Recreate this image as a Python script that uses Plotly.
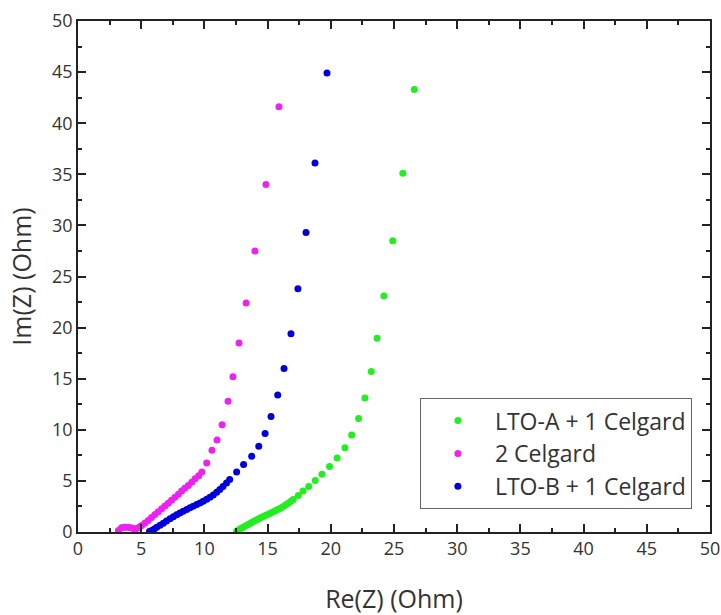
import plotly.graph_objects as go

# LTO-A + 1 Celgard
a_re = [12.55, 12.76, 12.92, 13.08, 13.27, 13.47, 13.67, 13.87, 14.06, 14.26, 14.46, 14.66, 14.86, 15.06,
        15.25, 15.45, 15.65, 15.85, 16.05, 16.24, 16.44, 16.64, 16.84, 17.03, 17.43, 17.8, 18.25, 18.77,
        19.3, 19.9, 20.5, 21.12, 21.65, 22.2, 22.7, 23.2, 23.66, 24.2, 24.9, 25.7, 26.6]
a_im = [0.08, 0.24, 0.36, 0.47, 0.6, 0.73, 0.88, 1.03, 1.15, 1.26, 1.39, 1.52, 1.63, 1.74,
        1.86, 1.98, 2.1, 2.23, 2.36, 2.5, 2.66, 2.82, 3.0, 3.18, 3.57, 4.0, 4.46, 5.04,
        5.66, 6.41, 7.23, 8.25, 9.48, 11.1, 13.1, 15.7, 18.95, 23.1, 28.5, 35.1, 43.3]

# 2 Celgard
c_re = [3.2, 3.45, 3.65, 3.85, 4.05, 4.25, 4.45, 4.64, 4.85, 5.04, 5.3, 5.56, 5.82, 6.09, 6.35, 6.62,
        6.88, 7.14, 7.4, 7.67, 7.95, 8.2, 8.45, 8.73, 9.0, 9.26, 9.55, 9.8, 10.18, 10.6, 11.0, 11.4,
        11.87, 12.26, 12.74, 13.3, 14.0, 14.87, 15.9]
c_im = [0.15, 0.41, 0.46, 0.47, 0.45, 0.38, 0.3, 0.34, 0.48, 0.64, 0.88, 1.13, 1.42, 1.71, 1.99, 2.27,
        2.55, 2.82, 3.1, 3.4, 3.7, 4.0, 4.28, 4.55, 4.88, 5.2, 5.5, 5.86, 6.74, 8.0, 9.0, 10.5,
        12.8, 15.2, 18.5, 22.4, 27.5, 34.0, 41.6]

# LTO-B + 1 Celgard
b_re = [5.65, 5.83, 6.03, 6.23, 6.49, 6.75, 7.0, 7.28, 7.54, 7.8, 8.06, 8.33, 8.6, 8.86, 9.12, 9.39,
        9.65, 9.91, 10.18, 10.44, 10.7, 10.97, 11.22, 11.47, 11.75, 12.0, 12.55, 13.1, 13.74, 14.3,
        14.8, 15.27, 15.8, 16.3, 16.85, 17.4, 18.04, 18.75, 19.7]
b_im = [0.05, 0.15, 0.3, 0.47, 0.67, 0.86, 1.08, 1.29, 1.49, 1.68, 1.86, 2.04, 2.2, 2.37, 2.53, 2.69,
        2.84, 3.0, 3.2, 3.4, 3.62, 3.9, 4.17, 4.45, 4.8, 5.14, 5.86, 6.6, 7.4, 8.4,
        9.65, 11.3, 13.4, 16.0, 19.4, 23.8, 29.3, 36.1, 44.9]

tick_vals = [0, 5, 10, 15, 20, 25, 30, 35, 40, 45, 50]

series = [
    ("LTO-A + 1 Celgard", a_re, a_im, "#22ee22"),
    ("2 Celgard", c_re, c_im, "#ee22ee"),
    ("LTO-B + 1 Celgard", b_re, b_im, "#0000dd"),
]

font = "Open Sans, Noto Sans, sans-serif"
fig = go.Figure()
for i, (name, xs, ys, col) in enumerate(series):
    fig.add_trace(go.Scatter(x=xs, y=ys, mode="markers", name=name, legendgroup=f"g{i}",
                             marker=dict(color=col, size=7, line=dict(width=0))))

axis_common = dict(
    range=[0, 50], tickvals=tick_vals, ticks="inside", ticklen=8, tickwidth=1.5, tickcolor="#222",
    showline=True, linecolor="#222", linewidth=1.5, mirror="ticks", showgrid=False, zeroline=False,
    automargin=False,
    tickfont=dict(family=font, size=18, color="#333"),
    minor=dict(ticks="inside", ticklen=4, tickwidth=1.5, tickcolor="#222", dtick=2.5, showgrid=False),
)

fig.update_layout(
    width=721, height=615,
    margin=dict(l=78, r=11, t=21, b=83),
    paper_bgcolor="white", plot_bgcolor="white",
    font=dict(family=font, color="#333"),
    showlegend=True,
    legend=dict(x=0.541, y=0.262, xanchor="left", yanchor="top",
                bordercolor="#666", borderwidth=1, bgcolor="white",
                font=dict(family=font, size=23, color="#333"),
                tracegroupgap=0, traceorder="grouped", itemwidth=64),
    xaxis=dict(axis_common, title=dict(text="Re(Z) (Ohm)", font=dict(family=font, size=25, color="#333"), standoff=32)),
    yaxis=dict(axis_common, title=dict(text="Im(Z) (Ohm)", font=dict(family=font, size=25, color="#333"), standoff=13)),
)

fig.write_html("out.html")
